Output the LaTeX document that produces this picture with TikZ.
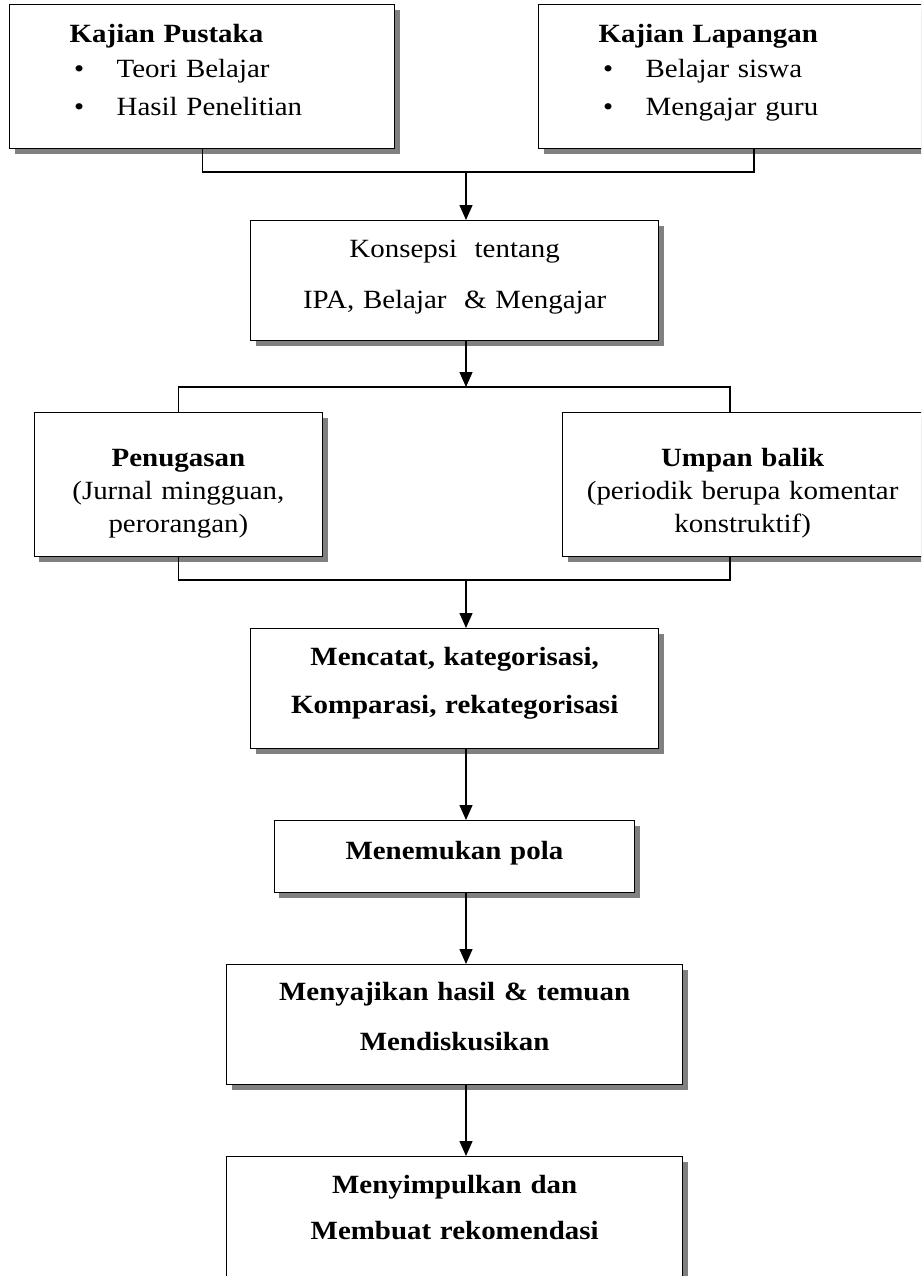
\documentclass[tikz,border=0pt]{standalone}
\usepackage{fontspec}
\setmainfont{Liberation Serif}[FakeStretch=1.1]
\usetikzlibrary{arrows.meta,shadows,calc}

\newcommand\ukuran[1]{\fontsize{26.3}{#1}\selectfont}
\newcommand\butir[1]{\hspace*{4.5pt}\makebox[42.5pt][l]{\textbullet}#1}

\tikzset{
  kotak/.style={draw, line width=1.3pt, fill=white, inner sep=0pt, align=center,
    drop shadow={shadow xshift=5pt, shadow yshift=-5pt, fill=gray, opacity=1}},
  panah/.style={-{Triangle[length=15pt,width=13pt]}, line width=1.3pt},
  garis/.style={line width=1.3pt},
}

\begin{document}
\begin{tikzpicture}[x=1pt, y=-1pt]
    \useasboundingbox (0,0) rectangle (921,1276);
    \clip (0,0) rectangle (921,1276);

    % Kajian
    \node[kotak, anchor=north west, align=left, inner xsep=60pt, text width=265pt,
          text height=37.7pt, text depth=106.3pt, font={\ukuran{35.3}}] (pustaka) at (9,4)
        {\textbf{Kajian Pustaka}\\ \butir{Teori Belajar}\\[2.7pt] \butir{Hasil Penelitian}};
    \node[kotak, anchor=north west, align=left, inner xsep=60pt, text width=265pt,
          text height=37.7pt, text depth=106.3pt, font={\ukuran{35.3}}] (lapangan) at (538,4)
        {\textbf{Kajian Lapangan}\\ \butir{Belajar siswa}\\[2.7pt] \butir{Mengajar guru}};

    % Konsepsi
    \node[kotak, anchor=north west, text width=408pt, text height=37pt, text depth=83pt,
          font={\ukuran{51}}] (konsepsi) at (250,220)
        {Konsepsi~ tentang\\ IPA, Belajar~ \& Mengajar};

    % Penugasan dan umpan balik
    \node[kotak, anchor=north west, text width=288.5pt, text height=53.7pt, text depth=90.3pt,
          font={\ukuran{33}}] (penugasan) at (33.5,412)
        {\textbf{Penugasan}\\ (Jurnal mingguan,\\ perorangan)};
    \node[kotak, anchor=north west, text width=360pt, text height=53.7pt, text depth=90.3pt,
          font={\ukuran{33}}] (umpan) at (562,412)
        {\textbf{Umpan balik}\\ (periodik berupa komentar\\ konstruktif)};

    % Langkah analisis
    \node[kotak, anchor=north west, text width=408pt, text height=37pt, text depth=83pt,
          font={\ukuran{48}\bfseries}] (mencatat) at (250,628)
        {Mencatat, kategorisasi,\\ Komparasi, rekategorisasi};
    \node[kotak, anchor=north west, text width=360.4pt, text height=39.3pt, text depth=32.7pt,
          font={\ukuran{48}\bfseries}] (pola) at (273.6,820)
        {Menemukan pola};
    \node[kotak, anchor=north west, text width=456pt, text height=36pt, text depth=84pt,
          font={\ukuran{50}\bfseries}] (sajikan) at (226,964)
        {Menyajikan hasil \& temuan\\ Mendiskusikan};
    \node[kotak, anchor=north west, text width=456pt, text height=36.7pt, text depth=93.3pt,
          font={\ukuran{46.6}\bfseries}] (simpulkan) at (226,1156)
        {Menyimpulkan dan\\ Membuat rekomendasi};

    % Garis penghubung
    \coordinate (sumbu) at (466,0);
    \coordinate (gabung1) at (466,172);
    \coordinate (gabung2) at (466,387);
    \coordinate (gabung3) at (466,580);
    \coordinate (kanan1) at ($(lapangan.south west)+(216,0)$);
    \coordinate (kanan2) at ($(umpan.north west)+(168,0)$);
    \coordinate (kanan3) at ($(umpan.south west)+(168,0)$);

    \draw[garis] (pustaka.south) |- (gabung1) -| (kanan1);
    \draw[panah] (gabung1) -- (gabung1 |- konsepsi.north);
    \draw[panah] (konsepsi.south -| sumbu) -- (gabung2);
    \draw[garis] (penugasan.north) |- (gabung2) -| (kanan2);
    \draw[garis] (penugasan.south) |- (gabung3) -| (kanan3);
    \draw[panah] (gabung3) -- (gabung3 |- mencatat.north);
    \draw[panah] (mencatat.south -| sumbu) -- (sumbu |- pola.north);
    \draw[panah] (pola.south -| sumbu) -- (sumbu |- sajikan.north);
    \draw[panah] (sajikan.south -| sumbu) -- (sumbu |- simpulkan.north);

\end{tikzpicture}
\end{document}
